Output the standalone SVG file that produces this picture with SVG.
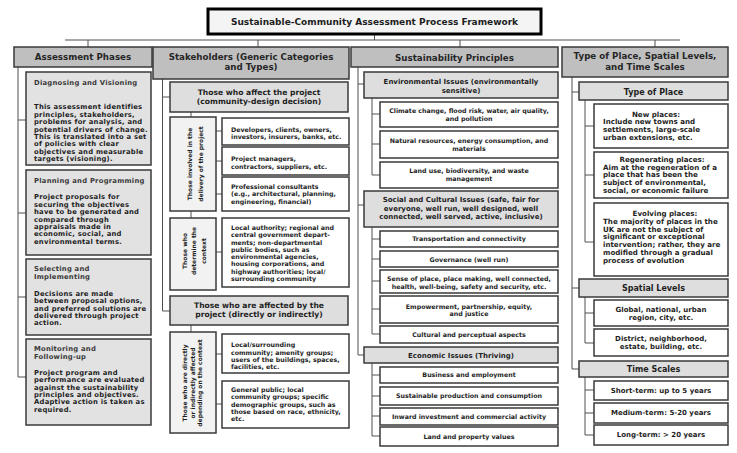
<svg xmlns="http://www.w3.org/2000/svg" width="737" height="453" viewBox="0 0 737 453">
<style>
.bx{stroke:#3a3a3a;stroke-width:1.5}
.hdr{fill:#bfbfbf}
.sub{fill:#dedede}
.ph{fill:#e2e2e2}
.vb{fill:#f2f2f2}
.wb{fill:#ffffff}
.ln{stroke:#505050;stroke-width:1;fill:none}
text{font-family:"DejaVu Sans",Verdana,sans-serif;font-weight:bold;fill:#1e1e1e}
.t{font-size:9px;text-anchor:middle}
.h{font-size:8.7px;text-anchor:middle;fill:#262626}
.s2{font-size:7.6px;text-anchor:middle}
.s3{font-size:7px;text-anchor:middle}
.s4{font-size:8px;text-anchor:middle}
.p{font-size:6.8px;letter-spacing:0.25px}
.pt{font-size:6.8px;letter-spacing:0.25px;fill:#3a3a3a}
.w{font-size:6.3px}
.wc{font-size:6.3px;text-anchor:middle}
.v{font-size:6px;text-anchor:middle}
.c4{font-size:7.1px}
.c4t{font-size:7.1px;text-anchor:middle}
.c5{font-size:7px;text-anchor:middle}
</style>

<g id="connectors" class="ln">
<path d="M374.5,34 V40 M65,40 H680 M88,40 V47 M258,40 V47 M460,40 V47 M655,40 V47"/>
<path d="M18,67 V377 M18,120 H26 M18,213 H26 M18,297 H26 M18,377 H26"/>
<path d="M162.5,79 V311 M162.5,97 H170 M162.5,311 H170"/>
<path d="M191,112 V117 M191,211 V218 M191,325 V332"/>
<path d="M216,131 H222 M216,161 H222 M216,194 H222 M216,252 H222 M216,354 H222 M216,404 H222"/>
<path d="M358,67 V355 M358,84 H364 M358,205 H364 M358,355 H364"/>
<path d="M372,98 V175 M372,114 H380 M372,144 H380 M372,175 H380"/>
<path d="M372,227 V334 M372,239 H380 M372,259 H380 M372,281 H380 M372,309 H380 M372,334 H380"/>
<path d="M372,363 V436 M372,375 H380 M372,396 H380 M372,416 H380 M372,436 H380"/>
<path d="M572,77 V369 M572,92 H579 M572,288 H579 M572,369 H579"/>
<path d="M585,100 V242 M585,126 H594 M585,175 H594 M585,242 H594"/>
<path d="M585,297 V343 M585,313 H594 M585,343 H594"/>
<path d="M585,377 V435 M585,390 H594 M585,413 H594 M585,435 H594"/>
</g>

<g id="title">
<rect x="208" y="9" width="333" height="25" fill="#f4f4f4" stroke="#000" stroke-width="3"/>
<text class="t" x="374.5" y="24.8">Sustainable-Community Assessment Process Framework</text>
</g>

<g id="col1">
<g id="h1"><rect class="bx hdr" x="14" y="47" width="138" height="20"/>
<text class="h" x="83" y="60.2">Assessment Phases</text></g>
<g id="p1"><rect class="bx ph" x="26" y="72" width="125" height="93"/>
<text class="pt" x="34" y="85.3">Diagnosing and Visioning</text>
<text class="p" x="34" y="109.3">This assessment identifies</text>
<text class="p" x="34" y="116.7">principles, stakeholders,</text>
<text class="p" x="34" y="124.1">problems for analysis, and</text>
<text class="p" x="34" y="131.5">potential drivers of change.</text>
<text class="p" x="34" y="138.9">This is translated into a set</text>
<text class="p" x="34" y="146.3">of policies with clear</text>
<text class="p" x="34" y="153.7">objectives and measurable</text>
<text class="p" x="34" y="161.1">targets (visioning).</text></g>
<g id="p2"><rect class="bx ph" x="26" y="170" width="125" height="85"/>
<text class="pt" x="34" y="183.3">Planning and Programming</text>
<text class="p" x="34" y="199.3">Project proposals for</text>
<text class="p" x="34" y="206.7">securing the objectives</text>
<text class="p" x="34" y="214.1">have to be generated and</text>
<text class="p" x="34" y="221.5">compared through</text>
<text class="p" x="34" y="228.9">appraisals made in</text>
<text class="p" x="34" y="236.3">economic, social, and</text>
<text class="p" x="34" y="243.7">environmental terms.</text></g>
<g id="p3"><rect class="bx ph" x="26" y="259" width="125" height="76"/>
<text class="pt" x="34" y="270.8">Selecting and</text>
<text class="pt" x="34" y="278.5">Implementing</text>
<text class="p" x="34" y="295.8">Decisions are made</text>
<text class="p" x="34" y="303.2">between proposal options,</text>
<text class="p" x="34" y="310.6">and preferred solutions are</text>
<text class="p" x="34" y="318">delivered through project</text>
<text class="p" x="34" y="325.4">action.</text></g>
<g id="p4"><rect class="bx ph" x="26" y="339" width="125" height="86"/>
<text class="pt" x="34" y="350.8">Monitoring and</text>
<text class="pt" x="34" y="358.5">Following-up</text>
<text class="p" x="34" y="374.8">Project program and</text>
<text class="p" x="34" y="382.2">performance are evaluated</text>
<text class="p" x="34" y="389.6">against the sustainability</text>
<text class="p" x="34" y="397">principles and objectives.</text>
<text class="p" x="34" y="404.4">Adaptive action is taken as</text>
<text class="p" x="34" y="411.8">required.</text></g>
</g>

<g id="col2">
<g id="h2"><rect class="bx hdr" x="153" y="47" width="196" height="32"/>
<text class="h" x="251" y="59.7">Stakeholders (Generic Categories</text>
<text class="h" x="251" y="70.3">and Types)</text></g>
<g id="s21"><rect class="bx sub" x="170" y="82" width="178" height="30"/>
<text class="s2" x="259" y="95">Those who affect the project</text>
<text class="s2" x="259" y="103.8">(community-design decision)</text></g>
<g id="v1"><rect class="bx vb" x="170" y="117" width="46" height="94"/>
<text class="v" transform="translate(191.5,164) rotate(-90)">Those involved in the</text>
<text class="v" transform="translate(202.5,164) rotate(-90)">delivery of the project</text></g>
<g id="w1"><rect class="bx wb" x="222" y="118" width="127" height="27"/>
<text class="w" x="231" y="131.5">Developers, clients, owners,</text>
<text class="w" x="231" y="138.9">investors, insurers, banks, etc.</text></g>
<g id="w2"><rect class="bx wb" x="222" y="147" width="127" height="28"/>
<text class="w" x="231" y="160.5">Project managers,</text>
<text class="w" x="231" y="168.9">contractors, suppliers, etc.</text></g>
<g id="w3"><rect class="bx wb" x="222" y="177" width="127" height="34"/>
<text class="w" x="231" y="188.9">Professional consultants</text>
<text class="w" x="231" y="196.3">(e.g., architectural,  planning,</text>
<text class="w" x="231" y="203.7">engineering, financial)</text></g>
<g id="v2"><rect class="bx vb" x="170" y="218" width="46" height="72"/>
<text class="v" transform="translate(186.5,251) rotate(-90)">Those who</text>
<text class="v" transform="translate(196.2,251) rotate(-90)">determine the</text>
<text class="v" transform="translate(205.5,251) rotate(-90)">context</text></g>
<g id="w4"><rect class="bx wb" x="222" y="218" width="127" height="69"/>
<text class="w" x="231" y="229.9">Local authority; regional and</text>
<text class="w" x="231" y="237.2">central government depart-</text>
<text class="w" x="231" y="244.5">ments; non-departmental</text>
<text class="w" x="231" y="251.8">public bodies, such as</text>
<text class="w" x="231" y="259.1">environmental agencies,</text>
<text class="w" x="231" y="266.4">housing corporations, and</text>
<text class="w" x="231" y="273.7">highway authorities; local/</text>
<text class="w" x="231" y="281">surrounding community</text></g>
<g id="s22"><rect class="bx sub" x="170" y="296" width="178" height="29"/>
<text class="s2" x="259" y="307.7">Those who are affected by the</text>
<text class="s2" x="259" y="316.7">project (directly or indirectly)</text></g>
<g id="v3"><rect class="bx vb" x="170" y="332" width="46" height="101"/>
<text class="v" transform="translate(187.2,383) rotate(-90)">Those who are directly</text>
<text class="v" transform="translate(194.9,383) rotate(-90)">or indirectly affected</text>
<text class="v" transform="translate(202.4,383) rotate(-90)">depending on the context</text></g>
<g id="w5"><rect class="bx wb" x="222" y="334" width="127" height="39"/>
<text class="w" x="231" y="347.3">Local/surrounding</text>
<text class="w" x="231" y="354.6">community; amenity groups;</text>
<text class="w" x="231" y="361.8">users of the buildings, spaces,</text>
<text class="w" x="231" y="369">facilities, etc.</text></g>
<g id="w6"><rect class="bx wb" x="222" y="381" width="127" height="47"/>
<text class="w" x="231" y="392.3">General public; local</text>
<text class="w" x="231" y="399.4">community groups; specific</text>
<text class="w" x="231" y="406.5">demographic groups, such as</text>
<text class="w" x="231" y="413.6">those based on race, ethnicity,</text>
<text class="w" x="231" y="420.7">etc.</text></g>
</g>

<g id="col3">
<g id="h3"><rect class="bx hdr" x="351" y="47" width="207" height="20"/>
<text class="h" x="454.5" y="60.7">Sustainability Principles</text></g>
<g id="s31"><rect class="bx sub" x="364" y="72" width="194" height="26"/>
<text class="s3" x="461" y="84.2">Environmental Issues (environmentally</text>
<text class="s3" x="461" y="92.5">sensitive)</text></g>
<g id="e1"><rect class="bx wb" x="380" y="102" width="178" height="25"/>
<text class="wc" x="469" y="113.2">Climate change, flood risk, water, air quality,</text>
<text class="wc" x="469" y="121.2">and pollution</text></g>
<g id="e2"><rect class="bx wb" x="380" y="131" width="178" height="27"/>
<text class="wc" x="469" y="142.9">Natural resources, energy consumption, and</text>
<text class="wc" x="469" y="150.5">materials</text></g>
<g id="e3"><rect class="bx wb" x="380" y="162" width="178" height="26"/>
<text class="wc" x="469" y="172.9">Land use, biodiversity, and waste</text>
<text class="wc" x="469" y="180.5">management</text></g>
<g id="s32"><rect class="bx sub" x="364" y="191" width="194" height="36"/>
<text class="s3" x="461" y="201.8">Social and Cultural Issues (safe, fair for</text>
<text class="s3" x="461" y="210.6">everyone, well run, well designed, well</text>
<text class="s3" x="461" y="219.3">connected, well served, active, inclusive)</text></g>
<g id="so1"><rect class="bx wb" x="380" y="231" width="178" height="16"/>
<text class="wc" x="469" y="241.4">Transportation and connectivity</text></g>
<g id="so2"><rect class="bx wb" x="380" y="251" width="178" height="16"/>
<text class="wc" x="469" y="261.7">Governance (well run)</text></g>
<g id="so3"><rect class="bx wb" x="380" y="270" width="178" height="23"/>
<text class="wc" x="469" y="281.2">Sense of place, place making, well connected,</text>
<text class="wc" x="469" y="288.6">health, well-being, safety and security, etc.</text></g>
<g id="so4"><rect class="bx wb" x="380" y="296" width="178" height="27"/>
<text class="wc" x="469" y="308.6">Empowerment, partnership, equity,</text>
<text class="wc" x="469" y="316">and justice</text></g>
<g id="so5"><rect class="bx wb" x="380" y="326" width="178" height="17"/>
<text class="wc" x="469" y="336.6">Cultural and perceptual aspects</text></g>
<g id="s33"><rect class="bx sub" x="364" y="347" width="194" height="16"/>
<text class="s3" x="461" y="357.5">Economic Issues (Thriving)</text></g>
<g id="ec1"><rect class="bx wb" x="380" y="367" width="178" height="16"/>
<text class="wc" x="469" y="377.2">Business and employment</text></g>
<g id="ec2"><rect class="bx wb" x="380" y="387" width="178" height="18"/>
<text class="wc" x="469" y="398.1">Sustainable production and consumption</text></g>
<g id="ec3"><rect class="bx wb" x="380" y="408" width="178" height="17"/>
<text class="wc" x="469" y="418.7">Inward investment and commercial activity</text></g>
<g id="ec4"><rect class="bx wb" x="380" y="427" width="178" height="19"/>
<text class="wc" x="469" y="438.7">Land and property values</text></g>
</g>

<g id="col4">
<g id="h4"><rect class="bx hdr" x="562" y="47" width="166" height="30"/>
<text class="h" x="645" y="59.1">Type of Place, Spatial Levels,</text>
<text class="h" x="645" y="69.8">and Time Scales</text></g>
<g id="s41"><rect class="bx sub" x="579" y="82" width="149" height="18"/>
<text class="s4" x="653.5" y="94.6">Type of Place</text></g>
<g id="tp1"><rect class="bx wb" x="594" y="104" width="134" height="44"/>
<text class="c4t" x="656" y="116.5">New places:</text>
<text class="c4" x="603" y="124.3">Include new towns and</text>
<text class="c4" x="603" y="132.1">settlements, large-scale</text>
<text class="c4" x="603" y="139.9">urban extensions, etc.</text></g>
<g id="tp2"><rect class="bx wb" x="594" y="152" width="134" height="46"/>
<text class="c4t" x="662" y="161.8">Regenerating places:</text>
<text class="c4" x="603" y="169.6">Aim at the regeneration of a</text>
<text class="c4" x="603" y="177.4">place that has been the</text>
<text class="c4" x="603" y="185.2">subject of environmental,</text>
<text class="c4" x="603" y="193">social, or economic failure</text></g>
<g id="tp3"><rect class="bx wb" x="594" y="203" width="134" height="73"/>
<text class="c4t" x="665" y="216.3">Evolving places:</text>
<text class="c4" x="603" y="224">The majority of places in the</text>
<text class="c4" x="603" y="231.7">UK are not the subject of</text>
<text class="c4" x="603" y="239.4">significant or exceptional</text>
<text class="c4" x="603" y="247.1">intervention; rather, they are</text>
<text class="c4" x="603" y="254.8">modified through a gradual</text>
<text class="c4" x="603" y="262.5">process of evolution</text></g>
<g id="s42"><rect class="bx sub" x="579" y="279" width="149" height="18"/>
<text class="s4" x="653.5" y="291.1">Spatial Levels</text></g>
<g id="sp1"><rect class="bx wb" x="594" y="300" width="134" height="26"/>
<text class="c5" x="661" y="312.3">Global, national, urban</text>
<text class="c5" x="661" y="320">region, city, etc.</text></g>
<g id="sp2"><rect class="bx wb" x="594" y="329" width="134" height="27"/>
<text class="c5" x="661" y="341.4">District, neighborhood,</text>
<text class="c5" x="661" y="349.1">estate, building, etc.</text></g>
<g id="s43"><rect class="bx sub" x="579" y="361" width="149" height="16"/>
<text class="s4" x="653.5" y="372.3">Time Scales</text></g>
<g id="ts1"><rect class="bx wb" x="594" y="381" width="134" height="19"/>
<text class="c5" x="661" y="392.6">Short-term: up to 5 years</text></g>
<g id="ts2"><rect class="bx wb" x="594" y="403" width="134" height="20"/>
<text class="c5" x="661" y="415.1">Medium-term: 5-20 years</text></g>
<g id="ts3"><rect class="bx wb" x="594" y="425" width="134" height="20"/>
<text class="c5" x="661" y="437.4">Long-term: &gt; 20 years</text></g>
</g>
</svg>
